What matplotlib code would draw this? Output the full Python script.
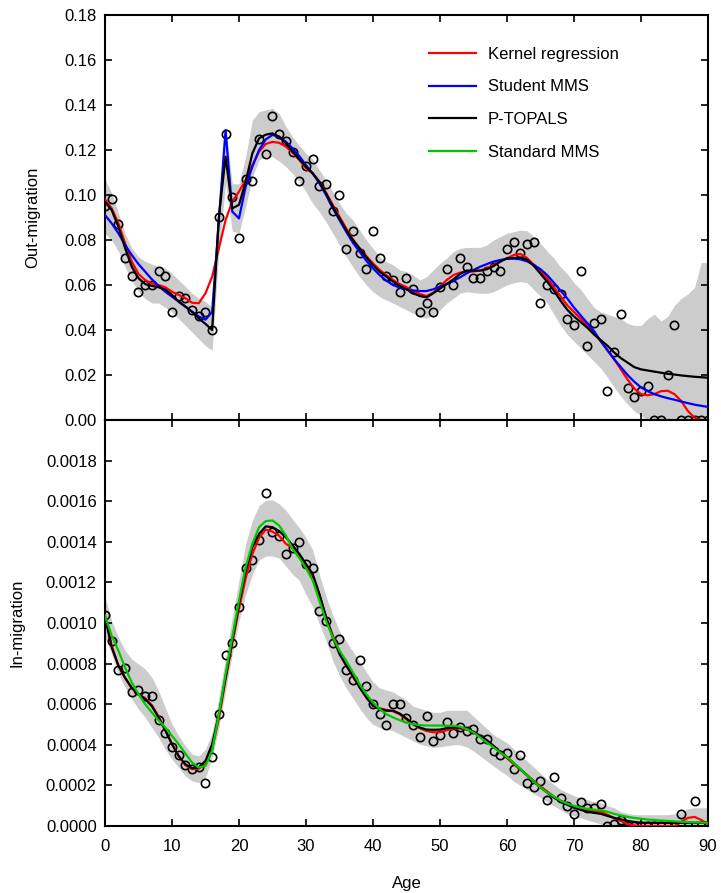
"""Out-migration and in-migration age schedules with fitted curves."""

import matplotlib
matplotlib.use("Agg")
import matplotlib.pyplot as plt
from matplotlib.lines import Line2D
import numpy as np

plt.rcParams["font.family"] = ["Liberation Sans", "DejaVu Sans"]

ages = np.arange(91)

# ---- Out-migration (top panel) ----
out_obs = [
    0.095, 0.098, 0.087, 0.072, 0.064, 0.057, 0.060, 0.060, 0.066, 0.064,
    0.048, 0.055, 0.054, 0.049, 0.046, 0.048, 0.040, 0.090, 0.127, 0.099,
    0.081, 0.107, 0.106, 0.125, 0.118, 0.135, 0.127, 0.124, 0.119, 0.106,
    0.113, 0.116, 0.104, 0.105, 0.093, 0.100, 0.076, 0.084, 0.074, 0.067,
    0.084, 0.072, 0.064, 0.062, 0.057, 0.063, 0.058, 0.048, 0.052, 0.048,
    0.059, 0.067, 0.060, 0.072, 0.068, 0.063, 0.063, 0.066, 0.068, 0.066,
    0.076, 0.079, 0.074, 0.078, 0.079, 0.052, 0.060, 0.058, 0.056, 0.045,
    0.042, 0.066, 0.033, 0.043, 0.045, 0.013, 0.030, 0.047, 0.014, 0.010,
    0.013, 0.015, 0.0, 0.0, 0.020, 0.042, 0.0, 0.0, 0.0, 0.0,
    0.0,
]
out_kernel = [
    0.0981, 0.0941, 0.0874, 0.0785, 0.0704, 0.0649, 0.0622, 0.0607, 0.0600, 0.0590,
    0.0570, 0.0556, 0.0541, 0.0521, 0.0519, 0.0563, 0.0637, 0.0763, 0.0889, 0.0970,
    0.1015, 0.1067, 0.1133, 0.1193, 0.1227, 0.1236, 0.1232, 0.1215, 0.1188, 0.1156,
    0.1119, 0.1096, 0.1059, 0.1010, 0.0956, 0.0904, 0.0852, 0.0803, 0.0763, 0.0729,
    0.0696, 0.0667, 0.0643, 0.0622, 0.0604, 0.0590, 0.0575, 0.0560, 0.0551, 0.0566,
    0.0593, 0.0622, 0.0644, 0.0655, 0.0660, 0.0660, 0.0664, 0.0674, 0.0689, 0.0704,
    0.0719, 0.0733, 0.0738, 0.0720, 0.0690, 0.0660, 0.0630, 0.0590, 0.0550, 0.0510,
    0.0480, 0.0450, 0.0420, 0.0385, 0.0350, 0.0310, 0.0270, 0.0225, 0.0180, 0.0140,
    0.0115, 0.0110, 0.0115, 0.0128, 0.0130, 0.0115, 0.0085, 0.0040, 0.0010, 0.0,
    0.0,
]
out_student = [
    0.0911, 0.0874, 0.0830, 0.0778, 0.0733, 0.0693, 0.0659, 0.0625, 0.0596, 0.0570,
    0.0548, 0.0526, 0.0504, 0.0481, 0.0460, 0.0446, 0.0480, 0.0889, 0.1289, 0.0926,
    0.0896, 0.1037, 0.1126, 0.1200, 0.1247, 0.1267, 0.1259, 0.1237, 0.1207, 0.1173,
    0.1133, 0.1096, 0.1052, 0.1000, 0.0941, 0.0889, 0.0837, 0.0788, 0.0748, 0.0708,
    0.0674, 0.0644, 0.0619, 0.0600, 0.0588, 0.0581, 0.0575, 0.0573, 0.0573, 0.0581,
    0.0593, 0.0604, 0.0618, 0.0634, 0.0652, 0.0667, 0.0681, 0.0693, 0.0704, 0.0711,
    0.0716, 0.0717, 0.0714, 0.0705, 0.0690, 0.0670, 0.0644, 0.0610, 0.0575, 0.0540,
    0.0500, 0.0465, 0.0430, 0.0395, 0.0350, 0.0310, 0.0270, 0.0235, 0.0200, 0.0170,
    0.0145, 0.0128, 0.0115, 0.0105, 0.0097, 0.0090, 0.0082, 0.0075, 0.0068, 0.0063,
    0.0058,
]
out_ptopals = [
    0.0970, 0.0933, 0.0859, 0.0764, 0.0681, 0.0630, 0.0604, 0.0596, 0.0590, 0.0580,
    0.0556, 0.0526, 0.0504, 0.0481, 0.0452, 0.0427, 0.0400, 0.0904, 0.1170, 0.0941,
    0.0956, 0.1059, 0.1185, 0.1252, 0.1268, 0.1274, 0.1259, 0.1230, 0.1193, 0.1159,
    0.1126, 0.1096, 0.1059, 0.1007, 0.0948, 0.0896, 0.0844, 0.0800, 0.0763, 0.0723,
    0.0689, 0.0659, 0.0637, 0.0615, 0.0596, 0.0581, 0.0563, 0.0551, 0.0545, 0.0563,
    0.0584, 0.0604, 0.0625, 0.0649, 0.0664, 0.0664, 0.0664, 0.0670, 0.0684, 0.0704,
    0.0719, 0.0720, 0.0722, 0.0712, 0.0685, 0.0650, 0.0615, 0.0575, 0.0530, 0.0490,
    0.0460, 0.0435, 0.0410, 0.0380, 0.0355, 0.0330, 0.0300, 0.0275, 0.0255, 0.0235,
    0.0225, 0.0220, 0.0215, 0.0210, 0.0205, 0.0202, 0.0198, 0.0195, 0.0192, 0.0190,
    0.0188,
]
out_band_lo = [
    0.083, 0.080, 0.075, 0.068, 0.062, 0.057, 0.054, 0.052, 0.052, 0.050,
    0.048, 0.045, 0.042, 0.039, 0.036, 0.033, 0.031, 0.075, 0.105, 0.084,
    0.083, 0.0948, 0.108, 0.1156, 0.117, 0.117, 0.115, 0.1126, 0.1096, 0.1059,
    0.1015, 0.0963, 0.0926, 0.0881, 0.083, 0.0778, 0.0726, 0.0681, 0.0637, 0.060,
    0.057, 0.0548, 0.0533, 0.0519, 0.0504, 0.0489, 0.0474, 0.046, 0.0452, 0.0467,
    0.0489, 0.0519, 0.0541, 0.0563, 0.057, 0.0566, 0.0563, 0.0563, 0.057, 0.0585,
    0.060, 0.061, 0.0615, 0.061, 0.058, 0.055, 0.052, 0.047, 0.042, 0.038,
    0.035, 0.032, 0.029, 0.026, 0.023, 0.019, 0.0145, 0.0105, 0.007, 0.004,
    0.002, 0.0, 0.0, 0.0, 0.0, 0.0, 0.0, 0.0, 0.0, 0.0,
    0.0,
]
out_band_hi = [
    0.107, 0.101, 0.092, 0.083, 0.0763, 0.0726, 0.0704, 0.0693, 0.0681, 0.0674,
    0.0652, 0.0622, 0.0593, 0.0563, 0.0541, 0.0526, 0.050, 0.098, 0.130, 0.105,
    0.105, 0.117, 0.1333, 0.137, 0.1378, 0.1385, 0.1363, 0.1304, 0.1259, 0.122,
    0.1185, 0.116, 0.1111, 0.1067, 0.1015, 0.0963, 0.0919, 0.0889, 0.0844, 0.080,
    0.0763, 0.0726, 0.0704, 0.0689, 0.0667, 0.066, 0.0644, 0.0622, 0.0637, 0.0667,
    0.0696, 0.0719, 0.0748, 0.0763, 0.0767, 0.0767, 0.0767, 0.0778, 0.080, 0.0815,
    0.083, 0.0837, 0.0844, 0.0841, 0.0815, 0.0785, 0.075, 0.072, 0.068, 0.065,
    0.061, 0.058, 0.054, 0.050, 0.048, 0.047, 0.046, 0.045, 0.043, 0.042,
    0.042, 0.045, 0.047, 0.044, 0.046, 0.051, 0.054, 0.056, 0.059, 0.070,
    0.070,
]

# ---- In-migration (bottom panel) ----
in_obs = [
    0.00104, 0.00091, 0.00077, 0.00078, 0.00066, 0.00067, 0.00064, 0.00064, 0.00052, 0.00046,
    0.00039, 0.00035, 0.00030, 0.00028, 0.00029, 0.00021, 0.00034, 0.00055, 0.00084, 0.00090,
    0.00108, 0.00127, 0.00131, 0.00141, 0.00164, 0.00145, 0.00143, 0.00134, 0.00137, 0.00140,
    0.00129, 0.00127, 0.00106, 0.00101, 0.00090, 0.00092, 0.00077, 0.00072, 0.00082, 0.00069,
    0.00060, 0.00055, 0.00050, 0.00060, 0.00060, 0.00053, 0.00050, 0.00044, 0.00054, 0.00042,
    0.00045, 0.00051, 0.00046, 0.00049, 0.00047, 0.00048, 0.00043, 0.00043, 0.00037, 0.00035,
    0.00036, 0.00028, 0.00035, 0.00021, 0.00019, 0.00022, 0.00013, 0.00024, 0.00014, 0.00010,
    0.00006, 0.00012, 0.00009, 0.00009, 0.00011, 0.0, 0.00001, 0.00003, 0.0, 0.0,
    0.0, 0.0, 0.0, 0.0, 0.0, 0.0, 0.00006, 0.0, 0.000125, 0.0,
    0.0,
]
in_kernel = [
    0.00104, 0.00089, 0.00079, 0.00073, 0.00068, 0.00065, 0.00063, 0.000595, 0.00054, 0.000475,
    0.000405, 0.000345, 0.00030, 0.00028, 0.000282, 0.000305, 0.00038, 0.00053, 0.00072, 0.00090,
    0.00107, 0.00122, 0.00134, 0.00142, 0.00146, 0.00145, 0.00143, 0.00139, 0.00137, 0.00133,
    0.00128, 0.00123, 0.00114, 0.00103, 0.00094, 0.00086, 0.000795, 0.000735, 0.000685, 0.00064,
    0.00060, 0.00058, 0.000572, 0.000565, 0.00055, 0.000525, 0.00050, 0.000482, 0.000468, 0.000462,
    0.000462, 0.000472, 0.00048, 0.00048, 0.000475, 0.000465, 0.000445, 0.00042, 0.000392, 0.000362,
    0.000335, 0.000305, 0.000278, 0.00025, 0.000222, 0.000195, 0.00017, 0.000145, 0.000125, 0.00011,
    0.000095, 0.000085, 0.000078, 0.000074, 0.00007, 0.000055, 0.00004, 0.000025, 0.00001, 0.000003,
    0.0, 0.0, 0.0, 0.0, 0.0, 0.0, 0.00002, 0.00004, 0.000045, 0.00003,
    0.00001,
]
in_ptopals = [
    0.00103, 0.00088, 0.00079, 0.00073, 0.00068, 0.00065, 0.000625, 0.00059, 0.000535, 0.00047,
    0.000403, 0.000345, 0.000304, 0.000285, 0.000288, 0.000321, 0.000403, 0.000551, 0.000732, 0.000913,
    0.001094, 0.001258, 0.001374, 0.001439, 0.001476, 0.001472, 0.001453, 0.001423, 0.001382, 0.001341,
    0.001291, 0.001242, 0.001143, 0.001028, 0.000929, 0.000847, 0.00079, 0.00074, 0.000683, 0.000633,
    0.000592, 0.000576, 0.000568, 0.000568, 0.000554, 0.00053, 0.000502, 0.000485, 0.000475, 0.000474,
    0.000475, 0.000482, 0.000485, 0.000485, 0.000477, 0.000464, 0.000444, 0.000423, 0.000395, 0.000365,
    0.00034, 0.00031, 0.00028, 0.00025, 0.00022, 0.00019, 0.000165, 0.00014, 0.00012, 0.000105,
    0.00009, 0.00008, 0.00007, 0.000065, 0.00006, 0.00005, 0.00004, 0.000033, 0.000025, 0.00002,
    0.000016, 0.000016, 0.000016, 0.000016, 0.000016, 0.000016, 0.000016, 0.000016, 0.000016, 0.000016,
    0.000016,
]
in_standard = [
    0.001036, 0.000938, 0.000864, 0.000781, 0.000707, 0.00065, 0.0006, 0.000559, 0.000521, 0.000485,
    0.000444, 0.000403, 0.000357, 0.000313, 0.000288, 0.000296, 0.00037, 0.000551, 0.000748, 0.000929,
    0.00111, 0.001275, 0.00139, 0.001472, 0.001502, 0.001505, 0.00148, 0.001431, 0.001365, 0.00132,
    0.00127, 0.00121, 0.00111, 0.00101, 0.00093, 0.000864, 0.000814, 0.000757, 0.000699, 0.00065,
    0.000609, 0.000576, 0.000551, 0.000535, 0.000521, 0.00051, 0.000502, 0.000497, 0.000495, 0.000495,
    0.000495, 0.000494, 0.000494, 0.000489, 0.000477, 0.000461, 0.000436, 0.000411, 0.000387, 0.000362,
    0.00034, 0.00031, 0.00028, 0.00025, 0.00022, 0.00019, 0.000165, 0.000145, 0.000125, 0.00011,
    0.0001, 0.00009, 0.000085, 0.00008, 0.000078, 0.00007, 0.00006, 0.000052, 0.000045, 0.00004,
    0.000036, 0.000032, 0.00003, 0.000027, 0.000025, 0.000023, 0.000021, 0.00002, 0.000018, 0.000017,
    0.000016,
]
in_band_lo = [
    0.00093, 0.000847, 0.000748, 0.000683, 0.000625, 0.000576, 0.000535, 0.000485, 0.000436, 0.000378,
    0.000329, 0.000288, 0.000247, 0.000222, 0.000214, 0.000239, 0.000337, 0.000485, 0.000666, 0.000847,
    0.00101, 0.00114, 0.00124, 0.00131, 0.00133, 0.00133, 0.00132, 0.00128, 0.00124, 0.00121,
    0.00114, 0.00108, 0.000995, 0.000913, 0.000814, 0.00074, 0.00068, 0.00063, 0.00058, 0.000535,
    0.0005, 0.000485, 0.000477, 0.000469, 0.000452, 0.000436, 0.000419, 0.000403, 0.000395, 0.000387,
    0.00039, 0.000395, 0.0004, 0.0004, 0.00039, 0.00037, 0.000345, 0.00032, 0.000296, 0.000271,
    0.00025, 0.00022, 0.0002, 0.00018, 0.00016, 0.00014, 0.00012, 0.0001, 0.00008, 0.00006,
    0.00005, 0.00004, 0.00003, 0.00002, 0.00001, 0.0, 0.0, 0.0, 0.0, 0.0,
    0.0, 0.0, 0.0, 0.0, 0.0, 0.0, 0.0, 0.0, 0.0, 0.0,
    0.0,
]
in_band_hi = [
    0.00113, 0.00101, 0.00093, 0.000864, 0.000823, 0.000798, 0.000773, 0.000732, 0.000666, 0.000584,
    0.000502, 0.000444, 0.000395, 0.000354, 0.000345, 0.000378, 0.000461, 0.000633, 0.000831, 0.001028,
    0.001209, 0.00139, 0.001505, 0.001579, 0.001604, 0.001607, 0.001587, 0.001555, 0.00151, 0.00147,
    0.00142, 0.00136, 0.00124, 0.00113, 0.00104, 0.00096, 0.00091, 0.00086, 0.00081, 0.00076,
    0.00071, 0.00068, 0.00067, 0.00066, 0.00064, 0.00062, 0.00059, 0.00058, 0.00057, 0.00056,
    0.00056, 0.00057, 0.00057, 0.00057, 0.00057, 0.00054, 0.00051, 0.00048, 0.00045, 0.00043,
    0.00041, 0.00038, 0.00035, 0.00032, 0.00029, 0.00026, 0.00023, 0.000205, 0.00018, 0.000165,
    0.00015, 0.000135, 0.00013, 0.00012, 0.000115, 0.0001, 0.00009, 0.00007, 0.000062, 0.000056,
    0.000056, 0.000056, 0.000056, 0.000056, 0.000056, 0.00006, 0.00007, 0.000085, 0.00009, 0.00009,
    0.00009,
]

RED = "#ff0000"
BLUE = "#0000ff"
GREEN = "#00c800"
BAND = "#cccccc"

fig = plt.figure(figsize=(7.21, 8.93), dpi=100)
ax1 = fig.add_axes([0.1456, 0.5297, 0.8363, 0.4535])
ax2 = fig.add_axes([0.1456, 0.0750, 0.8363, 0.4547])

# Panel 1: out-migration
ax1.fill_between(ages, out_band_lo, out_band_hi, color=BAND, linewidth=0, zorder=1)
ax1.plot(ages, out_obs, "o", mfc="none", mec="black", ms=6, mew=1.2, zorder=2)
ax1.plot(ages, out_kernel, color=RED, lw=1.6, zorder=3)
ax1.plot(ages, out_student, color=BLUE, lw=1.6, zorder=3)
ax1.plot(ages, out_ptopals, color="black", lw=1.6, zorder=3)
ax1.set_ylim(0, 0.18)
ax1.set_yticks(np.arange(0, 0.181, 0.02))
ax1.set_yticklabels([f"{v:.2f}" for v in np.arange(0, 0.181, 0.02)])
ax1.set_ylabel("Out-migration", fontsize=12)
ax1.yaxis.set_label_coords(-0.108, 0.5)
ax1.tick_params(labelbottom=False)

handles = [
    Line2D([], [], color=RED, lw=1.6),
    Line2D([], [], color=BLUE, lw=1.6),
    Line2D([], [], color="black", lw=1.6),
    Line2D([], [], color=GREEN, lw=1.6),
]
labels = ["Kernel regression", "Student MMS", "P-TOPALS", "Standard MMS"]
ax1.legend(handles, labels, loc="upper left", bbox_to_anchor=(0.538, 0.922),
           frameon=False, fontsize=12, handlelength=2.8, handletextpad=0.7,
           labelspacing=1.07, borderpad=0, borderaxespad=0)

# Panel 2: in-migration
ax2.fill_between(ages, in_band_lo, in_band_hi, color=BAND, linewidth=0, zorder=1)
ax2.plot(ages, in_obs, "o", mfc="none", mec="black", ms=6, mew=1.2, zorder=2)
ax2.plot(ages, in_kernel, color=RED, lw=1.6, zorder=3)
ax2.plot(ages, in_ptopals, color="black", lw=1.6, zorder=3)
ax2.plot(ages, in_standard, color=GREEN, lw=1.6, zorder=3)
ax2.set_ylim(0, 0.002)
yt = np.arange(0, 0.00181, 0.0002)
ax2.set_yticks(yt)
ax2.set_yticklabels([f"{v:.4f}" for v in yt])
ax2.set_ylabel("In-migration", fontsize=12)
ax2.yaxis.set_label_coords(-0.134, 0.5)
ax2.set_xlabel("Age", fontsize=12, labelpad=16)

for ax in (ax1, ax2):
    ax.set_xlim(0, 90)
    ax.set_xticks(np.arange(0, 91, 10))
    ax.tick_params(direction="in", top=True, right=True, length=5, width=1.2,
                   labelsize=12, pad=6)
    ax.tick_params(axis="x", pad=9)
    for sp in ax.spines.values():
        sp.set_linewidth(1.5)

fig.savefig("out.png", dpi=100)
plt.close(fig)
